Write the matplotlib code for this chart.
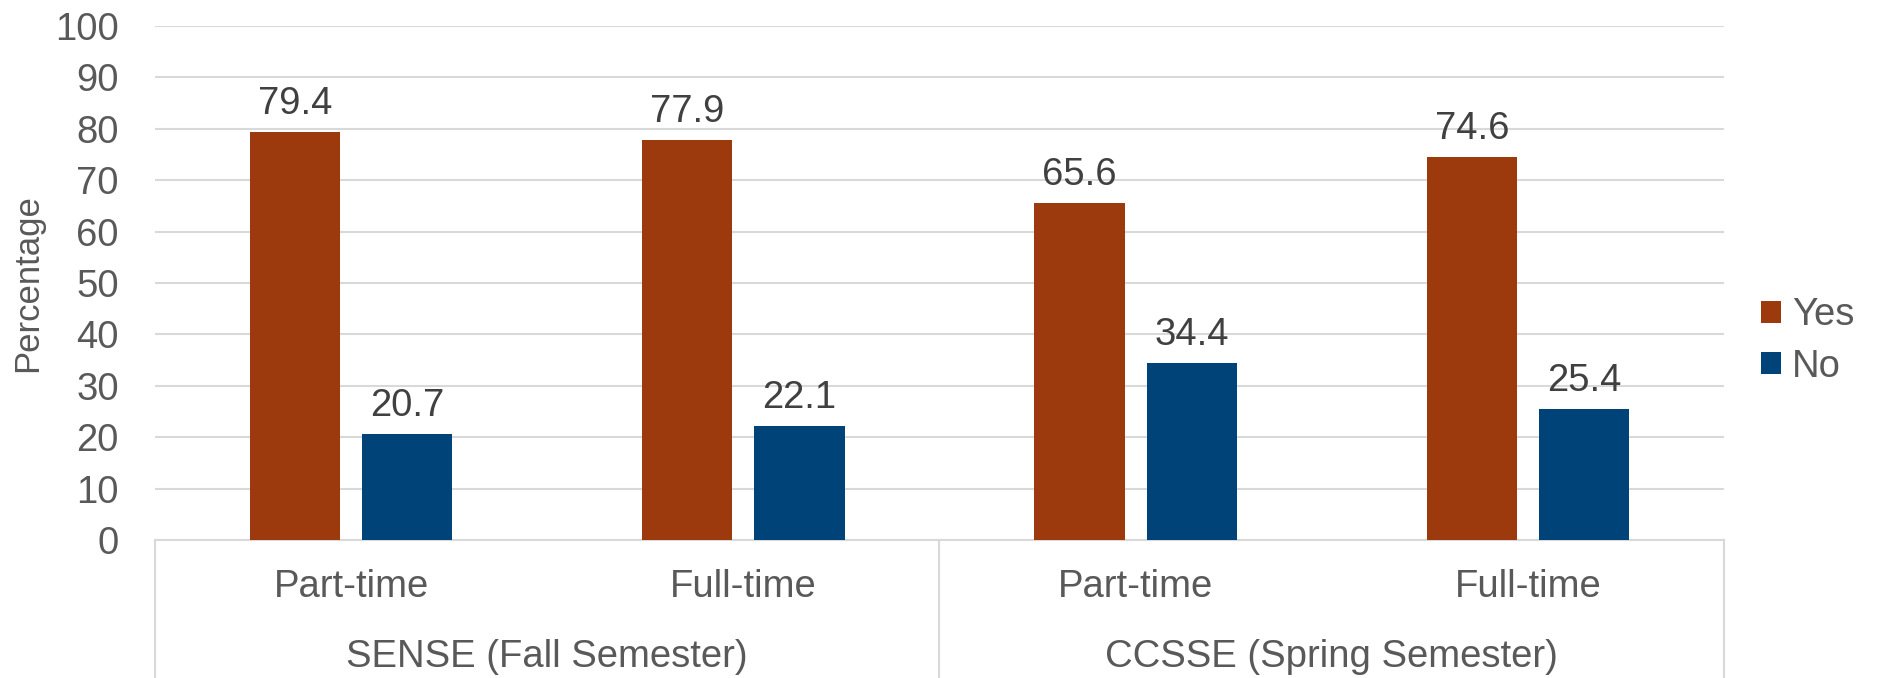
import matplotlib.pyplot as plt
from matplotlib.lines import Line2D
import numpy as np

plt.rcParams['font.family'] = ['Liberation Sans', 'DejaVu Sans']

sub_labels = ['Part-time', 'Full-time', 'Part-time', 'Full-time']
group_labels = ['SENSE (Fall Semester)', 'CCSSE (Spring Semester)']
yes_vals = [79.4, 77.9, 65.6, 74.6]
no_vals = [20.7, 22.1, 34.4, 25.4]

yes_color = '#9c3a0e'
no_color = '#004379'
grid_color = '#d9d9d9'
tick_color = '#595959'
label_color = '#404040'
fs = 27.5

W, H = 1881, 678
fig = plt.figure(figsize=(W / 100, H / 100), dpi=100)
left, right, top, bottom = 155, 1724, 26, 540
ax = fig.add_axes([left / W, 1 - bottom / H, (right - left) / W, (bottom - top) / H])

x = np.arange(len(sub_labels)) + 0.5
bw = 0.23
off = 0.143
b1 = ax.bar(x - off, yes_vals, bw, color=yes_color, label='Yes', zorder=3)
b2 = ax.bar(x + off, no_vals, bw, color=no_color, label='No', zorder=3)

for bars in (b1, b2):
    for r in bars:
        ax.annotate(f'{r.get_height():.1f}', (r.get_x() + r.get_width() / 2, r.get_height()),
                    xytext=(0, 18), textcoords='offset pixels', ha='center', va='baseline',
                    fontsize=fs, color=label_color)

ax.set_xlim(0, 4)
ax.set_ylim(0, 100)
ax.set_yticks(range(0, 101, 10))
ax.yaxis.grid(True, color=grid_color, linewidth=1.5, zorder=0)
ax.tick_params(axis='y', length=0, pad=26, labelsize=fs, labelcolor=tick_color)
ax.set_xticks([])
for s in ['top', 'right', 'left']:
    ax.spines[s].set_visible(False)
ax.spines['bottom'].set_color(grid_color)
ax.spines['bottom'].set_linewidth(1.5)

ax.set_ylabel('Percentage', fontsize=25, color=tick_color, labelpad=0)
ax.yaxis.set_label_coords(-(left - 44) / (right - left), 0.5)

# category labels
for xi, lab in zip(x, sub_labels):
    px = left + xi / 4 * (right - left)
    fig.text(px / W, 1 - 587 / H, lab, ha='center', va='center', fontsize=fs, color=tick_color)
for gi, lab in enumerate(group_labels):
    px = left + (gi * 2 + 1) / 4 * (right - left)
    fig.text(px / W, 1 - 657 / H, lab, ha='center', va='center', fontsize=fs, color=tick_color)
for xs in [0, 2, 4]:
    px = left + xs / 4 * (right - left)
    fig.add_artist(Line2D([px / W, px / W], [0, 1 - bottom / H], color=grid_color, linewidth=1.5))

fig.legend(handles=[b1, b2], labels=['Yes', 'No'], loc='center left',
           bbox_to_anchor=(1761 / W, 1 - 341 / H), frameon=False, fontsize=fs,
           handlelength=0.52, handleheight=0.52, handletextpad=0.3, labelspacing=0.4,
           borderpad=0, borderaxespad=0, labelcolor=tick_color)

fig.savefig('out.png', dpi=100)
